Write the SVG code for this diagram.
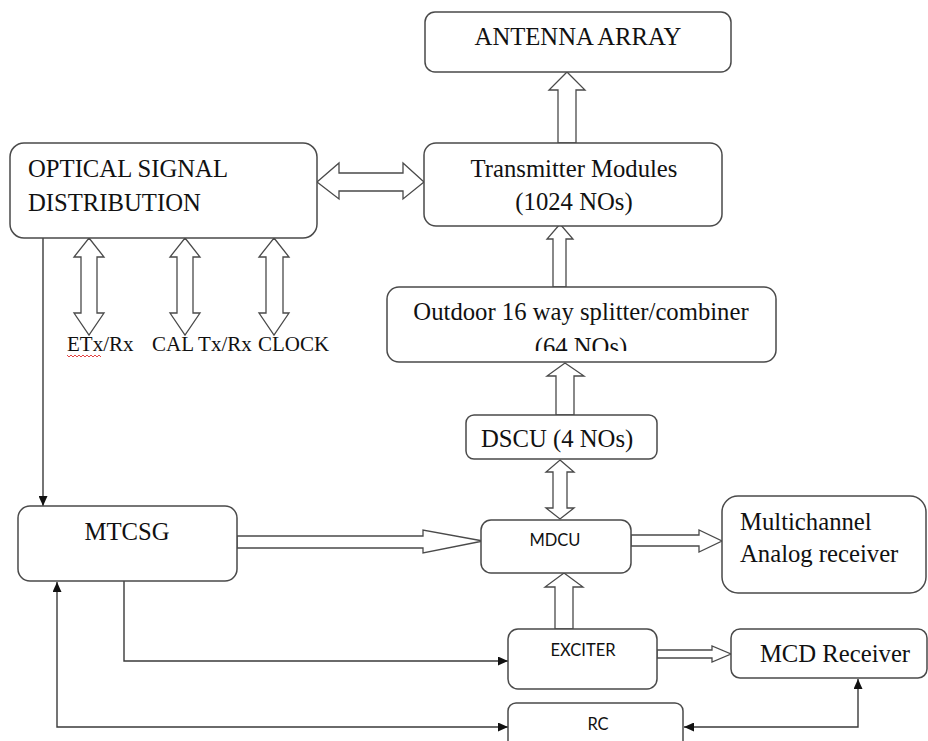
<svg xmlns="http://www.w3.org/2000/svg" width="928" height="741" viewBox="0 0 928 741">
<style>
.box{fill:#fff;stroke:#4a4a4a;stroke-width:1.5}
.ha{fill:#fff;stroke:#4a4a4a;stroke-width:1.3;stroke-linejoin:miter}
.ln{fill:none;stroke:#3a3a3a;stroke-width:1.4}
.t{font-family:"Liberation Serif","Times New Roman",serif;font-size:24.7px;fill:#111}
.s{font-family:Lato,"Liberation Sans",sans-serif;font-size:16.5px;fill:#111}
.m{text-anchor:middle}
</style>
<defs>
<marker id="ah" viewBox="0 0 10 9" refX="10" refY="4.5" markerWidth="10" markerHeight="9" markerUnits="userSpaceOnUse" orient="auto-start-reverse">
<path d="M0,0 L10,4.5 L0,9 Z" fill="#111"/>
</marker>
<clipPath id="clipSplit"><rect x="387" y="287" width="389" height="64"/></clipPath>
</defs>
<rect width="928" height="741" fill="#fff"/>

<g id="connectors">
<polygon class="ha" points="567,72 585,90 576,90 576,143 558,143 558,90 549,90"/>
<polygon class="ha" points="560,224 573,239 566,239 566,287 553,287 553,239 547,239"/>
<polygon class="ha" points="565,363 584,376 574,376 574,415 556,415 556,376 547,376"/>
<polygon class="ha" points="560,460 574,472 567,472 567,508 574,508 560,519 546,508 553,508 553,472 546,472"/>
<polygon class="ha" points="564,573 583,587 573,587 573,629 555,629 555,587 545,587"/>
<polygon class="ha" points="237,536 423,536 423,530 483,541 423,553 423,548 237,548"/>
<polygon class="ha" points="631,535 699,535 699,530 722,541 699,552 699,546 631,546"/>
<polygon class="ha" points="657,650 712,650 712,646 731,654 712,662 712,658 657,658"/>
<polygon class="ha" points="317,182 339,163 339,173 403,173 403,163 424,182 403,199 403,191 339,191 339,199"/>
<polygon class="ha" points="89,238 104,257 97,257 97,313 104,313 89,335 74,313 81,313 81,257 74,257"/>
<polygon class="ha" points="185,238 200,257 193,257 193,313 200,313 185,335 170,313 177,313 177,257 170,257"/>
<polygon class="ha" points="274,238 289,257 283,257 283,313 289,313 274,335 259,313 266,313 266,257 259,257"/>
<path class="ln" d="M43,238 V506" marker-end="url(#ah)"/>
<path class="ln" d="M124,581 V661 H508" marker-end="url(#ah)"/>
<path class="ln" d="M57,582 V727 H508" marker-start="url(#ah)" marker-end="url(#ah)"/>
<path class="ln" d="M684,727 H858 V679" marker-start="url(#ah)" marker-end="url(#ah)"/>
</g>

<g id="antenna">
<rect class="box" x="425" y="12" width="306" height="60" rx="10"/>
<text class="t m" x="578" y="45">ANTENNA ARRAY</text>
</g>
<g id="transmitter">
<rect class="box" x="424" y="143" width="298" height="83" rx="12"/>
<text class="t m" x="574" y="177">Transmitter Modules</text>
<text class="t m" x="574" y="210">(1024 NOs)</text>
</g>
<g id="optical">
<rect class="box" x="10" y="143" width="307" height="95" rx="14"/>
<text class="t" x="28" y="177">OPTICAL SIGNAL</text>
<text class="t" x="28" y="211">DISTRIBUTION</text>
</g>
<g id="labels">
<text class="t" x="67" y="351" style="font-size:21px">ETx/Rx</text>
<text class="t" x="152" y="351" style="font-size:21px">CAL Tx/Rx</text>
<text class="t" x="258" y="351" style="font-size:21px">CLOCK</text>
<path d="M67,355 l2,2 l2,-2 l2,2 l2,-2 l2,2 l2,-2 l2,2 l2,-2 l2,2 l2,-2 l2,2 l2,-2 l2,2 l2,-2 l2,2 l2,-2 l2,2" fill="none" stroke="#e03030" stroke-width="0.9"/>
</g>
<g id="splitter">
<rect class="box" x="387" y="287" width="389" height="75" rx="12"/>
<text class="t m" x="581" y="320">Outdoor 16 way splitter/combiner</text>
<text class="t m" x="581" y="355" clip-path="url(#clipSplit)">(64 NOs)</text>
</g>
<g id="dscu">
<rect class="box" x="466" y="415" width="191" height="44" rx="8"/>
<text class="t" x="481" y="447">DSCU (4 NOs)</text>
</g>
<g id="mtcsg">
<rect class="box" x="18" y="506" width="219" height="75" rx="12"/>
<text class="t m" x="127" y="540">MTCSG</text>
</g>
<g id="mdcu">
<rect class="box" x="481" y="520" width="150" height="53" rx="10"/>
<text class="s m" x="555" y="546">MDCU</text>
</g>
<g id="multichannel">
<rect class="box" x="722" y="496" width="204" height="97" rx="16"/>
<text class="t" x="740" y="530">Multichannel</text>
<text class="t" x="740" y="562">Analog receiver</text>
</g>
<g id="exciter">
<rect class="box" x="508" y="629" width="149" height="60" rx="10"/>
<text class="s m" x="583" y="656">EXCITER</text>
</g>
<g id="mcd">
<rect class="box" x="731" y="629" width="196" height="49" rx="9"/>
<text class="t m" x="835" y="662">MCD Receiver</text>
</g>
<g id="rc">
<rect class="box" x="508" y="703" width="175" height="50" rx="8"/>
<text class="s m" x="598" y="730">RC</text>
</g>
</svg>
